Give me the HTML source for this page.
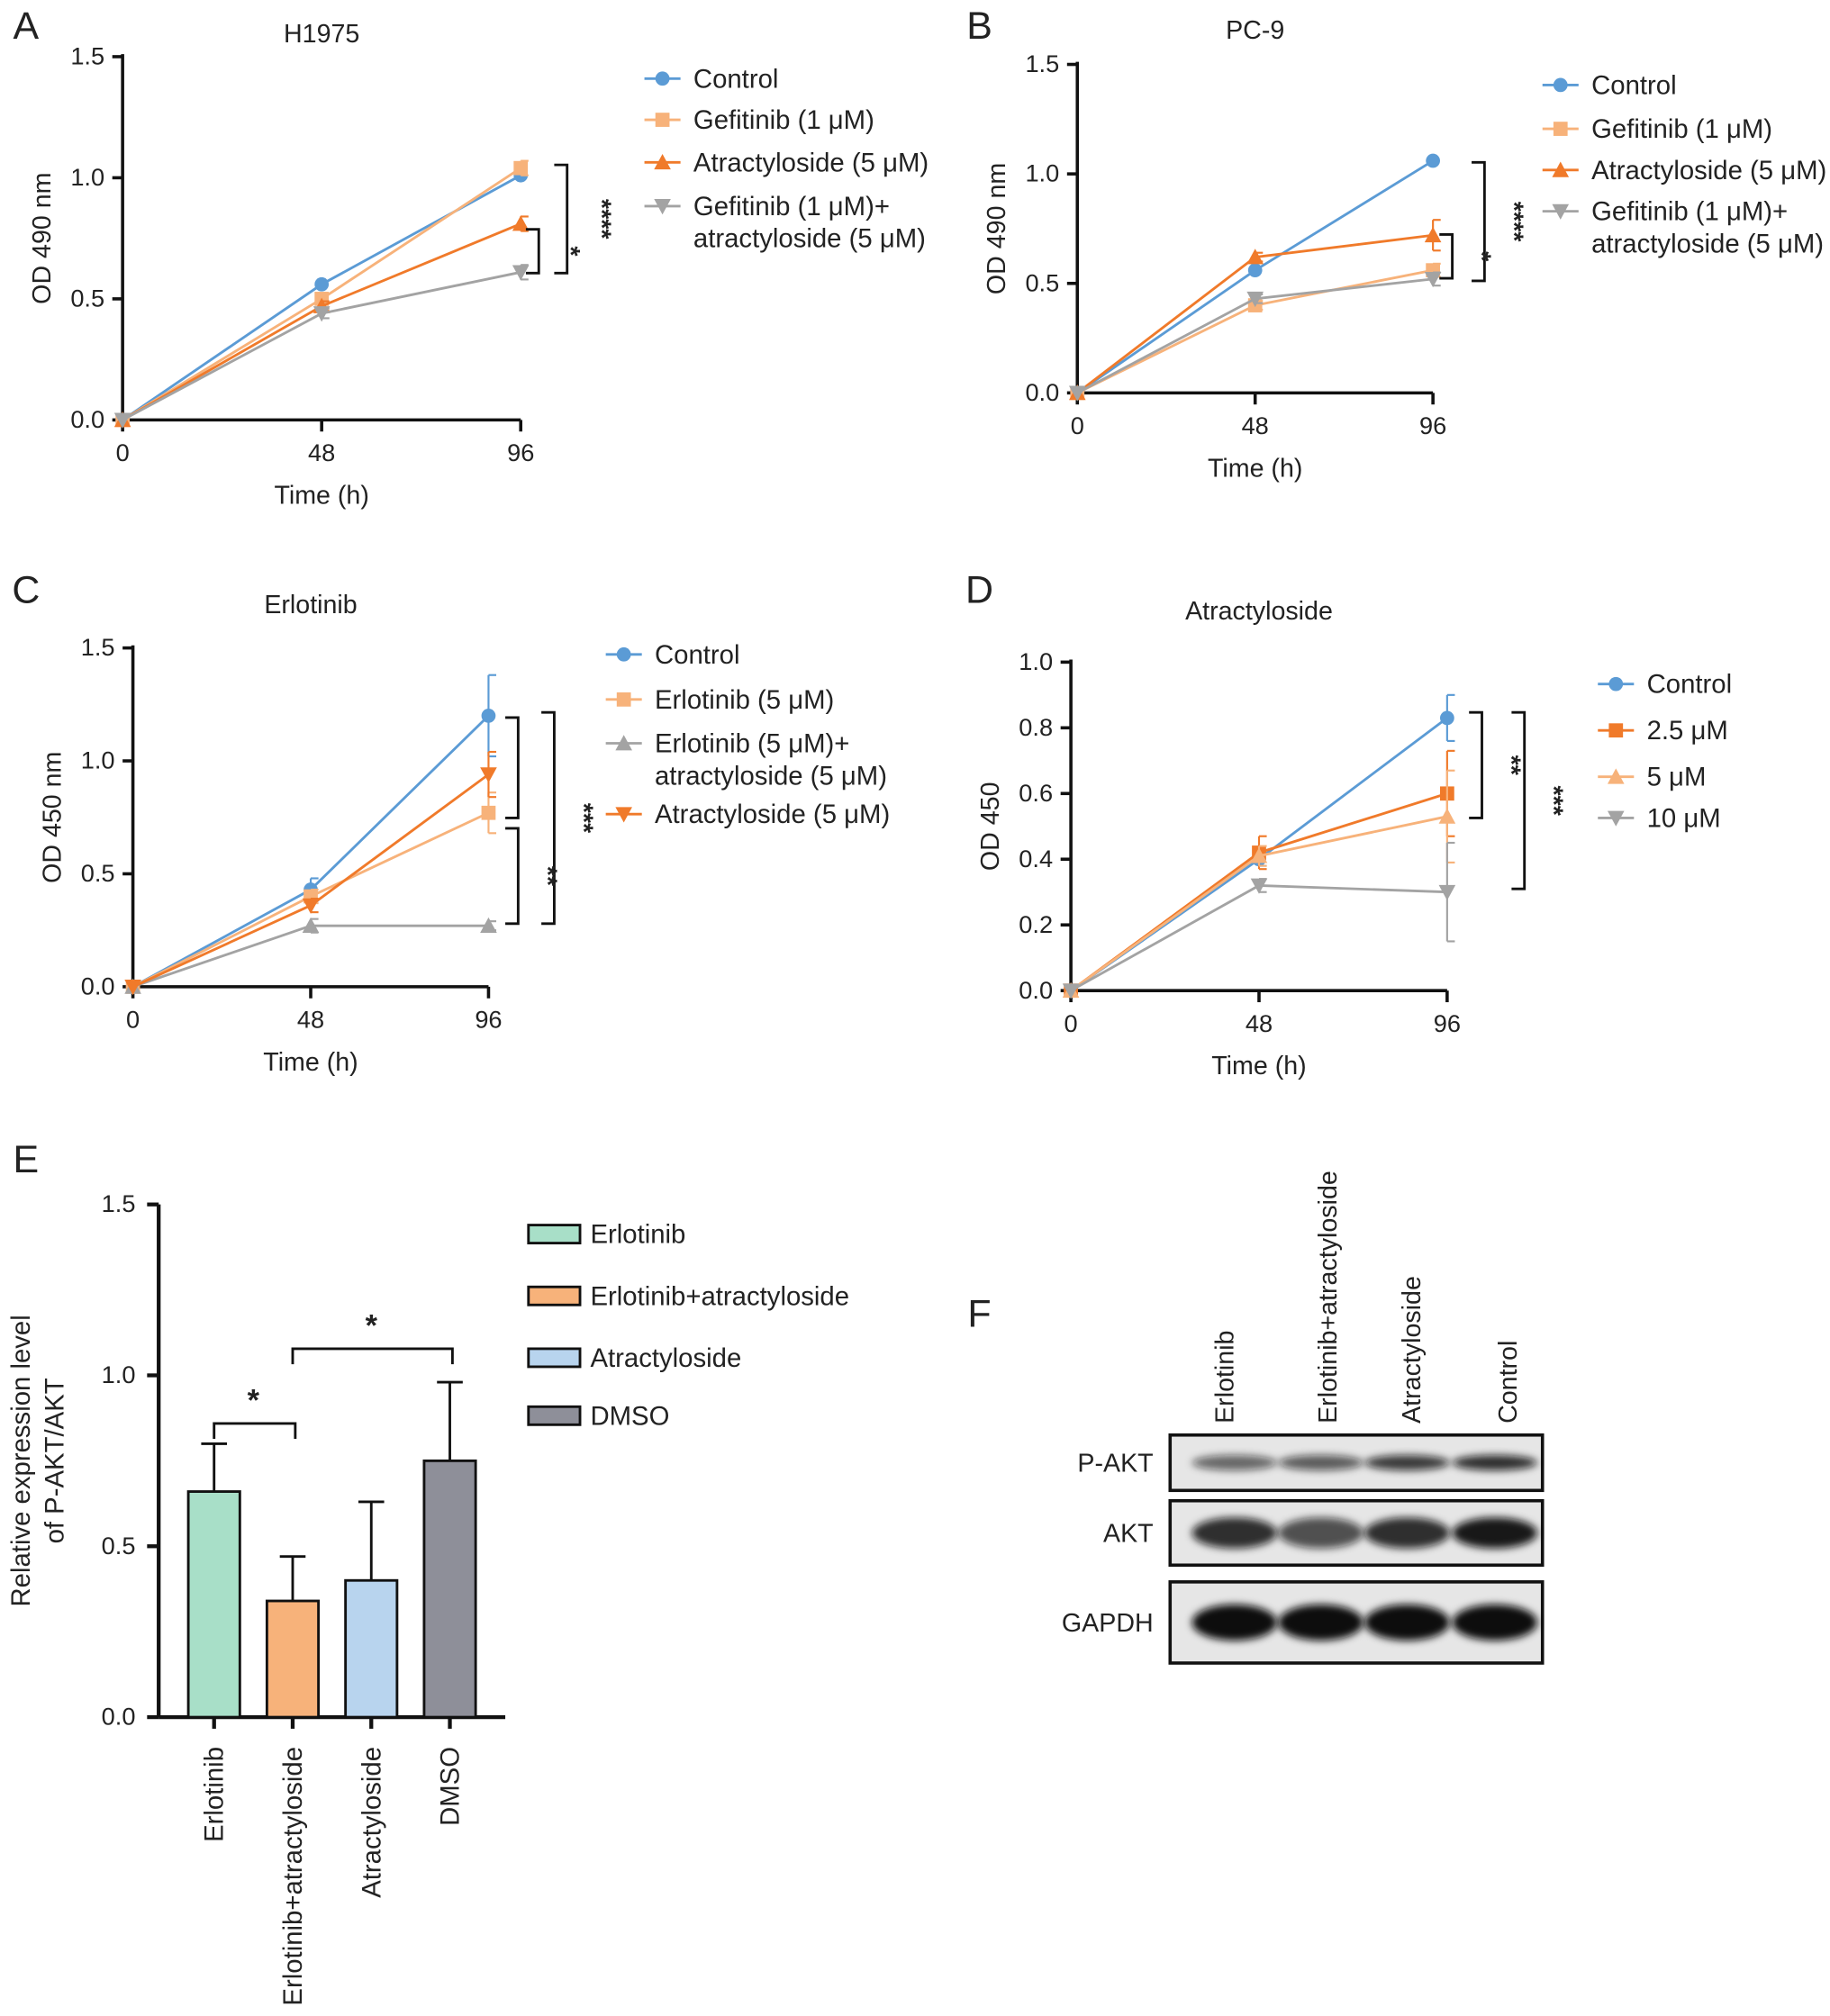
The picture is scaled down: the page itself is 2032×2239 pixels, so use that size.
<!DOCTYPE html>
<html><head><meta charset="utf-8"><style>
html,body{margin:0;padding:0;background:#fff}
svg{display:block;font-family:"Liberation Sans",Arial,sans-serif}
</style></head><body>
<svg id="fig" width="2032" height="2239" viewBox="0 0 1420 1565" xmlns="http://www.w3.org/2000/svg">
<defs><filter id="blur" x="-20%" y="-50%" width="140%" height="200%"><feGaussianBlur stdDeviation="3"/></filter></defs>
<g id="root"></g>
</svg>
<script>
// ---- data ----
const timeCats=[0,48,96];
const aNames=["Control","Gefitinib (1 μM)","Atractyloside (5 μM)","Gefitinib (1 μM)+|atractyloside (5 μM)"];
const aControl=[0,0.56,1.01], aGef=[0,0.50,1.04], aAtr=[0,0.47,0.81], aCombo=[0,0.44,0.61];
const aErr=[0,0.02,0.03,0.04];
const bControl=[0,0.56,1.06], bGef=[0,0.40,0.56], bAtr=[0,0.62,0.72], bCombo=[0,0.43,0.52];
const cNames=["Control","Erlotinib (5 μM)","Erlotinib (5 μM)+|atractyloside (5 μM)","Atractyloside (5 μM)"];
const cControl=[0,0.43,1.20], cErl=[0,0.40,0.77], cCombo=[0,0.27,0.27], cAtr=[0,0.36,0.94];
const cErrTop=[0,0.05,0.18];
const dNames=["Control","2.5 μM","5 μM","10 μM"];
const dControl=[0,0.40,0.83], d25=[0,0.42,0.60], d5=[0,0.41,0.53], d10=[0,0.32,0.30];
const eCats=["Erlotinib","Erlotinib+atractyloside","Atractyloside","DMSO"];
const eValues=[0.66,0.34,0.40,0.75];
const eErrTop=[0.80,0.47,0.63,0.98];
const yTicks15=["0.0","0.5","1.0","1.5"];
const yTicksD=["0.0","0.2","0.4","0.6","0.8","1.0"];
// ---- helpers ----
const NS="http://www.w3.org/2000/svg";
const root=document.getElementById('root');
function el(tag,attrs,parent,text){const e=document.createElementNS(NS,tag);for(const k in attrs)e.setAttribute(k,attrs[k]);if(text!==undefined)e.textContent=text;(parent||root).appendChild(e);return e;}
function txt(x,y,s,size,anchor,parent,rot,weight){const a={x:x,y:y,'font-size':size,'text-anchor':anchor||'middle',fill:'#222'};if(rot)a.transform=`rotate(${rot} ${x} ${y})`;if(weight)a['font-weight']=weight;return el('text',a,parent,s);}
function marker(g,shape,x,y,c,r){r=r||5.5;
 if(shape==='circle')return el('circle',{cx:x,cy:y,r:r,fill:c},g);
 if(shape==='square')return el('rect',{x:x-r,y:y-r,width:2*r,height:2*r,fill:c},g);
 if(shape==='tri')return el('polygon',{points:`${x},${y-r-1} ${x-r-1},${y+r} ${x+r+1},${y+r}`,fill:c},g);
 return el('polygon',{points:`${x},${y+r+1} ${x-r-1},${y-r} ${x+r+1},${y-r}`,fill:c},g);}
function linePanel(cfg){
 const g=el('g',{},root);
 const sx=v=>cfg.x0+(v/96)*(cfg.x1-cfg.x0);
 const sy=v=>cfg.y0-(v/cfg.ymax)*(cfg.y0-cfg.y1);
 txt(cfg.lx,cfg.ly,cfg.letter,30,'middle',g);
 txt((cfg.x0+cfg.x1)/2,cfg.ty,cfg.title,20,'middle',g);
 el('line',{x1:cfg.x0,y1:cfg.y1-2,x2:cfg.x0,y2:cfg.y0,stroke:'#111','stroke-width':2.5},g);
 el('line',{x1:cfg.x0,y1:cfg.y0,x2:cfg.x1,y2:cfg.y0,stroke:'#111','stroke-width':2.5},g);
 cfg.yt.forEach(t=>{const y=sy(+t);el('line',{x1:cfg.x0-8,y1:y,x2:cfg.x0,y2:y,stroke:'#111','stroke-width':2.5},g);txt(cfg.x0-14,y+6,t,19,'end',g);});
 timeCats.forEach(t=>{const x=sx(t);el('line',{x1:x,y1:cfg.y0,x2:x,y2:cfg.y0+9,stroke:'#111','stroke-width':2.5},g);txt(x,cfg.y0+32,String(t),19,'middle',g);});
 txt((cfg.x0+cfg.x1)/2,cfg.y0+65,'Time (h)',20,'middle',g);
 txt(cfg.x0-56,(cfg.y0+cfg.y1)/2,cfg.ylab,20,'middle',g,-90);
 cfg.series.forEach((s,i)=>{
  const sg=el('g',{},g);
  const pts=s.data.map((v,j)=>sx(timeCats[j])+','+sy(v)).join(' ');
  el('polyline',{points:pts,fill:'none',stroke:s.c,'stroke-width':2},sg);
  s.data.forEach((v,j)=>{ if(s.err){const e=s.err[j];if(e>0){const x=sx(timeCats[j]);el('line',{x1:x,y1:sy(v+e),x2:x,y2:sy(v-e),stroke:s.c,'stroke-width':1.5},sg);el('line',{x1:x,y1:sy(v+e),x2:x+6,y2:sy(v+e),stroke:s.c,'stroke-width':1.5},sg);el('line',{x1:x,y1:sy(v-e),x2:x+6,y2:sy(v-e),stroke:s.c,'stroke-width':1.5},sg);}}
   marker(sg,s.m,sx(timeCats[j]),sy(v),s.c);});
  const L=cfg.leg[i];const lg=el('g',{},g);
  el('line',{x1:cfg.legx,y1:L,x2:cfg.legx+28,y2:L,stroke:s.c,'stroke-width':2},lg);marker(lg,s.m,cfg.legx+14,L,s.c);
  s.label.split('|').forEach((part,k)=>txt(cfg.legx+38,L+7+k*25,part,20.5,'start',lg));
 });
 cfg.br.forEach(b=>{const bg=el('g',{},g);
  el('polyline',{points:`${b[0]-10},${b[1]} ${b[0]},${b[1]} ${b[0]},${b[2]} ${b[0]-10},${b[2]}`,fill:'none',stroke:'#111','stroke-width':2},bg);
  txt(b[3],(b[1]+b[2])/2,b[4],20,'middle',bg,90,'bold');});
}
const BL='#5b9bd5',LO='#f7b27a',OR='#f07a2a',GR='#a3a3a3';
linePanel({name:'panel-a-h1975',letter:'A',lx:20,ly:30,title:'H1975',ty:33,x0:95,x1:404,y0:326,y1:44,ymax:1.5,yt:yTicks15,ylab:'OD 490 nm',legx:500,leg:[61,93,126,160],
 series:[{key:'control',data:aControl,c:BL,m:'circle',label:aNames[0]},{key:'gefitinib',data:aGef,c:LO,m:'square',label:aNames[1],err:aErr},{key:'atractyloside',data:aAtr,c:OR,m:'tri',label:aNames[2],err:aErr},{key:'combo',data:aCombo,c:GR,m:'vtri',label:aNames[3],err:aErr}],
 br:[[440,128,212,460,'****'],[418,178,212,436,'*']]});
linePanel({name:'panel-b-pc9',letter:'B',lx:760,ly:30,title:'PC-9',ty:30,x0:836,x1:1112,y0:305,y1:50,ymax:1.5,yt:yTicks15,ylab:'OD 490 nm',legx:1197,leg:[66,100,132,164],
 series:[{key:'control',data:bControl,c:BL,m:'circle',label:aNames[0]},{key:'gefitinib',data:bGef,c:LO,m:'square',label:aNames[1],err:aErr},{key:'atractyloside',data:bAtr,c:OR,m:'tri',label:aNames[2],err:[0,0.02,0.07]},{key:'combo',data:bCombo,c:GR,m:'vtri',label:aNames[3],err:aErr}],
 br:[[1152,126,218,1168,'****'],[1127,182,216,1143,'*']]});
linePanel({name:'panel-c-erlotinib',letter:'C',lx:20,ly:468,title:'Erlotinib',ty:476,x0:103,x1:379,y0:766,y1:503,ymax:1.5,yt:yTicks15,ylab:'OD 450 nm',legx:470,leg:[508,543,577,632],
 series:[{key:'control',data:cControl,c:BL,m:'circle',label:cNames[0],err:cErrTop},{key:'erlotinib',data:cErl,c:LO,m:'square',label:cNames[1],err:[0,0.03,0.09]},{key:'combo',data:cCombo,c:GR,m:'tri',label:cNames[2],err:[0,0.03,0.02]},{key:'atractyloside',data:cAtr,c:OR,m:'vtri',label:cNames[3],err:[0,0.03,0.1]}],
 br:[[430,553,717,446,'***'],[402,557,635,0,''],[402,643,717,418,'**']]});
linePanel({name:'panel-d-atractyloside',letter:'D',lx:760,ly:468,title:'Atractyloside',ty:481,x0:831,x1:1123,y0:769,y1:514,ymax:1.0,yt:yTicksD,ylab:'OD 450',legx:1240,leg:[531,567,603,635],
 series:[{key:'control',data:dControl,c:BL,m:'circle',label:dNames[0],err:[0,0.02,0.07]},{key:'2-5um',data:d25,c:OR,m:'square',label:dNames[1],err:[0,0.05,0.13]},{key:'5um',data:d5,c:LO,m:'tri',label:dNames[2],err:[0,0.03,0.14]},{key:'10um',data:d10,c:GR,m:'vtri',label:dNames[3],err:[0,0.02,0.15]}],
 br:[[1150,553,635,1166,'**'],[1183,553,690,1199,'***']]});
// ---- panel E ----
(function(){
 const g=el('g',{},root);
 const x0=123,y0=1333,y1=935,ymax=1.5;const sy=v=>y0-(v/ymax)*(y0-y1);
 const cols=['#a8dfc8','#f7b27a','#b8d4ee','#8e8f99'];const bx=i=>166+i*61;
 txt(20,910,'E',30,'middle',g);
 el('line',{x1:x0,y1:y1,x2:x0,y2:y0,stroke:'#111','stroke-width':3},g);
 el('line',{x1:x0,y1:y0,x2:392,y2:y0,stroke:'#111','stroke-width':3},g);
 yTicks15.forEach(t=>{const y=sy(+t);el('line',{x1:x0-9,y1:y,x2:x0,y2:y,stroke:'#111','stroke-width':3},g);txt(x0-18,y+6,t,19,'end',g);});
 txt(23,1134,'Relative expression level',20.5,'middle',g,-90);txt(49,1134,'of P-AKT/AKT',20.5,'middle',g,-90);
 eCats.forEach((c,i)=>{const x=bx(i);const bg=el('g',{},g);
  el('line',{x1:x,y1:sy(eErrTop[i]),x2:x,y2:sy(eValues[i]),stroke:'#111','stroke-width':2},bg);
  el('line',{x1:x-10,y1:sy(eErrTop[i]),x2:x+10,y2:sy(eErrTop[i]),stroke:'#111','stroke-width':2},bg);
  el('rect',{x:x-20,y:sy(eValues[i]),width:40,height:y0-sy(eValues[i]),fill:cols[i],stroke:'#111','stroke-width':2},bg);
  el('line',{x1:x,y1:y0,x2:x,y2:y0+9,stroke:'#111','stroke-width':3},bg);
  txt(x+7,1356,c,20.5,'end',bg,-90);
  const L=958+[0,48,96,141][i];const lg=el('g',{},g);
  el('rect',{x:410,y:L-7,width:40,height:14,fill:cols[i],stroke:'#111','stroke-width':2},lg);txt(458,L+7,c,20.5,'start',lg);
 });
 [[0,1,1105,1090],[1,3,1047,1032]].forEach(s=>{const sg=el('g',{},g);
  el('polyline',{points:`${bx(s[0])},${s[2]+12} ${bx(s[0])},${s[2]} ${bx(s[1])+2},${s[2]} ${bx(s[1])+2},${s[2]+12}`,fill:'none',stroke:'#111','stroke-width':2},sg);
  txt((bx(s[0])+bx(s[1]))/2,s[3]+5,'*',24,'middle',sg,0,'bold');});
})();
// ---- panel F ----
(function(){
 const g=el('g',{},root);
 txt(760,1030,'F',30,'middle',g);
 const lanes=['Erlotinib','Erlotinib+atractyloside','Atractyloside','Control'];const lx=[950,1030,1095,1170];
 lanes.forEach((l,i)=>txt(lx[i]+7,1105,l,20,'start',g,-90));
 const rows=[['P-AKT',1114,1157,[0.6,0.65,0.8,0.85],12],['AKT',1165,1215,[0.85,0.7,0.85,0.95],24],['GAPDH',1228,1291,[1,1,1,1],28]];
 const bxs=[958,1025,1092,1160];
 rows.forEach(r=>{const rg=el('g',{},g);
  el('rect',{x:908,y:r[1],width:289,height:r[2]-r[1],fill:'#e6e6e6',stroke:'#111','stroke-width':2.5},rg);
  txt(895,(r[1]+r[2])/2+7,r[0],20,'end',rg);
  r[3].forEach((a,i)=>el('ellipse',{cx:bxs[i],cy:(r[1]+r[2])/2,rx:33,ry:r[4]/2,fill:'#111','fill-opacity':a,filter:'url(#blur)'},rg));});
})();
</script>
</body></html>
